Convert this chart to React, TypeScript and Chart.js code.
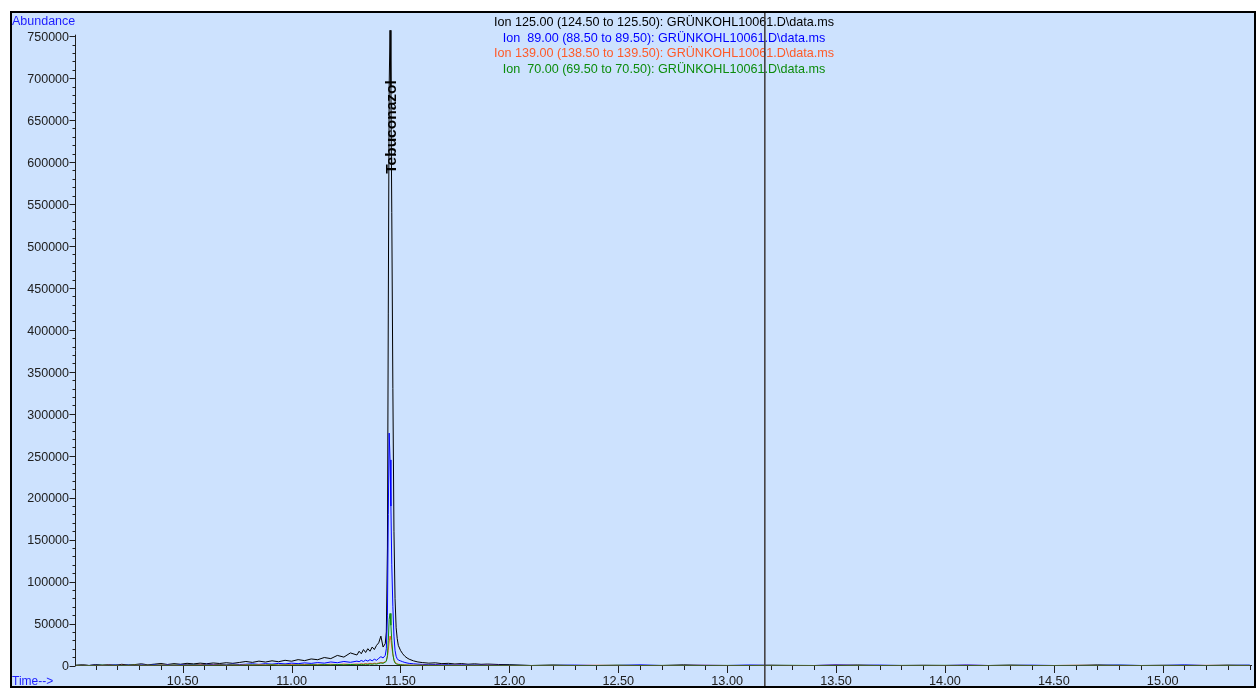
import React, { useEffect, useRef } from 'react';
import { Chart, registerables } from 'chart.js';

Chart.register(...registerables);

// Retention time (min) – shared by all ion traces
const times = [
  10.01, 10.04, 10.07, 10.10, 10.13, 10.16, 10.19, 10.22, 10.25, 10.28,
  10.31, 10.34, 10.37, 10.40, 10.43, 10.46, 10.49, 10.52, 10.55, 10.58,
  10.61, 10.64, 10.67, 10.70, 10.73, 10.76, 10.79, 10.82, 10.85, 10.88,
  10.91, 10.94, 10.97, 11.00, 11.03, 11.06, 11.09, 11.12, 11.15, 11.18,
  11.21, 11.24, 11.27, 11.30,
  11.31, 11.32, 11.33, 11.34, 11.35, 11.36, 11.37, 11.38, 11.39, 11.40, 11.41, 11.42, 11.43,
  11.435, 11.44, 11.444, 11.448, 11.452, 11.456, 11.46, 11.465, 11.47, 11.475, 11.48, 11.485, 11.49,
  11.50, 11.51, 11.52, 11.53, 11.54, 11.56, 11.58, 11.60, 11.63, 11.66,
  11.69, 11.72, 11.75, 11.78, 11.81, 11.84, 11.87, 11.90, 11.95, 12.00,
  12.1, 12.2, 12.3, 12.4, 12.5, 12.6, 12.7, 12.8, 12.9, 13.0,
  13.1, 13.2, 13.3, 13.4, 13.5, 13.6, 13.7, 13.8, 13.9, 14.0,
  14.1, 14.2, 14.3, 14.4, 14.5, 14.6, 14.7, 14.8, 14.9, 15.0,
  15.1, 15.2, 15.3, 15.4,
];

const ion125 = [
  300, 900, 0, 1200, 400, 1000, 200, 1400, 600, 1100,
  2000, 800, 1600, 2400, 1200, 2200, 1500, 2600, 1900, 2800,
  2100, 3000, 2400, 3300, 2600, 3600, 4800, 3700, 5200, 4100,
  5600, 4500, 6200, 5100, 7000, 5800, 7800, 6900, 9500, 8200,
  12000, 10000, 15000, 12500,
  17000, 14000, 19000, 15500, 20000, 17000, 22000, 19000, 24000, 27000, 35000, 22000, 26000,
  40000, 140000, 420000, 690000, 757000, 690000, 540000, 330000, 160000, 80000, 45000, 32000, 24000,
  18000, 14000, 11000, 9000, 7500, 5500, 4200, 3500, 2800, 3200,
  2200, 2600, 1800, 2300, 1500, 2000, 1400, 1700, 1200, 1000,
  0, 600, 0, 0, 300, 0, 0, 800, 0, 0,
  0, 400, 0, 0, 0, 600, 0, 0, 300, 0,
  0, 0, 500, 0, 0, 0, 700, 0, 0, 300,
  0, 0, 500, 0,
];

const ion89 = [
  0, 400, 0, 600, 0, 300, 800, 0, 500, 0,
  700, 200, 900, 300, 800, 200, 1100, 900, 1200, 700,
  1500, 1000, 1300, 800, 1700, 1100, 1500, 2000, 1300, 2200,
  1600, 2500, 1900, 2800, 2200, 3100, 2500, 3500, 2800, 4200,
  3300, 4800, 3800, 5200,
  4500, 6000, 4800, 6500, 5200, 7000, 5600, 7500, 6200, 8500, 10500, 9000, 12000,
  20000, 60000, 180000, 277000, 245000, 190000, 120000, 70000, 35000, 18000, 11000, 8000, 6500,
  5500, 4500, 3600, 3000, 2500, 2000, 1600, 1300, 1000, 1200,
  800, 1000, 600, 900, 500, 700, 400, 600, 300, 200,
  0, 0, 500, 0, 0, 800, 0, 0, 300, 0,
  600, 0, 0, 0, 900, 0, 500, 0, 0, 0,
  700, 0, 0, 400, 0, 0, 0, 600, 0, 0,
  800, 0, 0, 500,
];

const ion139 = [
  0, 300, 0, 200, 0, 400, 0, 300, 0, 500,
  100, 300, 0, 600, 200, 400, 100, 500, 300, 800,
  300, 500, 700, 300, 600, 400, 800, 500, 900, 600,
  1000, 500, 800, 1100, 700, 1200, 900, 1300, 1000, 1500,
  1100, 1700, 1300, 1800,
  1500, 2000, 1700, 2300, 1900, 2600, 2100, 2800, 2400, 3000, 3500, 3200, 4500,
  6000, 10000, 18000, 28000, 35000, 31000, 22000, 13000, 7000, 4000, 2800, 2000, 1600,
  1200, 900, 700, 600, 500, 400, 300, 400, 200, 300,
  200, 100, 300, 200, 100, 200, 100, 300, 100, 0,
  0, 0, 0, 300, 0, 0, 0, 0, 200, 0,
  0, 0, 0, 0, 300, 0, 0, 0, 0, 0,
  200, 0, 0, 0, 0, 300, 0, 0, 0, 0,
  0, 200, 0, 0,
];

const ion70 = [
  100, 300, 0, 200, 400, 100, 300, 0, 200, 500,
  100, 300, 200, 400, 100, 500, 200, 300, 600, 200,
  400, 100, 500, 300, 600, 200, 400, 700, 300, 500,
  800, 400, 600, 300, 700, 500, 900, 600, 1000, 700,
  1100, 800, 1200, 900,
  1100, 1400, 1200, 1600, 1300, 1800, 1500, 2000, 1700, 2400, 3000, 2600, 4000,
  5000, 12000, 30000, 55000, 62000, 48000, 30000, 14000, 6000, 3000, 2000, 1500, 1200,
  900, 700, 500, 400, 300, 200, 300, 100, 200, 100,
  0, 200, 100, 0, 100, 200, 0, 100, 0, 100,
  0, 100, 0, 0, 200, 0, 100, 0, 0, 100,
  0, 0, 200, 0, 100, 0, 0, 100, 0, 200,
  0, 0, 100, 0, 0, 100, 0, 200, 0, 0,
  100, 0, 0, 100,
];

const seriesLabels = [
  'Ion 125.00 (124.50 to 125.50): GRÜNKOHL10061.D\\data.ms',
  'Ion  89.00 (88.50 to 89.50): GRÜNKOHL10061.D\\data.ms',
  'Ion 139.00 (138.50 to 139.50): GRÜNKOHL10061.D\\data.ms',
  'Ion  70.00 (69.50 to 70.50): GRÜNKOHL10061.D\\data.ms',
];
const seriesColors = ['#000000', '#0000ff', '#ff5a28', '#0c8c0c'];

const xTickValues = [10.5, 11.0, 11.5, 12.0, 12.5, 13.0, 13.5, 14.0, 14.5, 15.0];
const yTickValues = [
  0, 50000, 100000, 150000, 200000, 250000, 300000, 350000,
  400000, 450000, 500000, 550000, 600000, 650000, 700000, 750000,
];

const peakName = 'Tebuconazol';
const peakTime = 11.46;
const peakLabelStart = 586000;
const markerTime = 13.173;

const X_MIN = 10.01;
const X_MAX = 15.41;
const Y_MAX = 778800;

const W = 1257;
const H = 688;
const BG = '#cde2fe';
const FONT = '"Liberation Sans", Arial, sans-serif';
const AXIS_BLUE = '#1c1cff';

const decorPlugin = {
  id: 'decor',
  beforeDraw(chart: any) {
    const ctx = chart.ctx;
    ctx.save();
    ctx.fillStyle = '#ffffff';
    ctx.fillRect(0, 0, W, H);
    ctx.fillStyle = BG;
    ctx.fillRect(10, 11, 1246, 677);
    ctx.restore();
  },
  beforeDatasetsDraw(chart: any) {
    const ctx = chart.ctx;
    const xs = chart.scales.x;
    const ys = chart.scales.y;
    const area = chart.chartArea;
    const y0 = ys.getPixelForValue(0);
    ctx.save();
    ctx.strokeStyle = '#202020';
    ctx.lineWidth = 1;
    // y axis
    const ax = Math.round(area.left) - 0.5;
    ctx.beginPath();
    ctx.moveTo(ax, ys.getPixelForValue(yTickValues[yTickValues.length - 1]) - 1.5);
    ctx.lineTo(ax, y0 + 0.5);
    ctx.stroke();
    // x axis (same row as the zero line of the traces)
    ctx.beginPath();
    ctx.moveTo(area.left - 1, y0);
    ctx.lineTo(area.right, y0);
    ctx.stroke();

    // y ticks (major + 4 minor)
    const yStep = yTickValues[1] - yTickValues[0];
    for (let i = 0; i < yTickValues.length; i++) {
      const v = yTickValues[i];
      const py = Math.round(ys.getPixelForValue(v)) + 0.5;
      ctx.beginPath();
      ctx.moveTo(ax - 6, py);
      ctx.lineTo(ax, py);
      ctx.stroke();
      if (i < yTickValues.length - 1) {
        for (let k = 1; k < 5; k++) {
          const pm = Math.round(ys.getPixelForValue(v + (yStep * k) / 5)) + 0.5;
          ctx.beginPath();
          ctx.moveTo(ax - 3, pm);
          ctx.lineTo(ax, pm);
          ctx.stroke();
        }
      }
    }
    // x ticks (major + 4 minor)
    const xStep = xTickValues[1] - xTickValues[0];
    const base = y0 + 0.5;
    const drawX = (v: number, len: number) => {
      const px = Math.round(xs.getPixelForValue(v)) + 0.5;
      if (px < area.left || px > area.right) return;
      ctx.beginPath();
      ctx.moveTo(px, base);
      ctx.lineTo(px, base + len);
      ctx.stroke();
    };
    for (let i = -1; i < xTickValues.length; i++) {
      const v = i < 0 ? xTickValues[0] - xStep : xTickValues[i];
      if (i >= 0) drawX(v, 7);
      for (let k = 1; k < 5; k++) drawX(v + (xStep * k) / 5, 4);
    }

    // labels
    ctx.fillStyle = '#202020';
    ctx.font = `12.5px ${FONT}`;
    ctx.textAlign = 'right';
    ctx.textBaseline = 'alphabetic';
    for (const v of yTickValues) {
      ctx.fillText(String(v), ax - 6.5, ys.getPixelForValue(v) + 4.8);
    }
    ctx.textAlign = 'center';
    ctx.font = `12.7px ${FONT}`;
    for (const v of xTickValues) {
      ctx.fillText(v.toFixed(2), xs.getPixelForValue(v), 685);
    }
    ctx.fillStyle = AXIS_BLUE;
    ctx.textAlign = 'left';
    ctx.font = `12.5px ${FONT}`;
    ctx.fillText('Abundance', 12, 25);
    ctx.font = `12px ${FONT}`;
    ctx.fillText('Time-->', 12, 685);
    ctx.restore();
  },
  afterDatasetsDraw(chart: any) {
    const ctx = chart.ctx;
    const xs = chart.scales.x;
    const ys = chart.scales.y;
    const area = chart.chartArea;
    ctx.save();
    // legend lines
    ctx.font = `12.6px ${FONT}`;
    ctx.textAlign = 'center';
    ctx.textBaseline = 'alphabetic';
    const cx = (area.left + area.right) / 2;
    seriesLabels.forEach((t, i) => {
      ctx.fillStyle = seriesColors[i];
      ctx.fillText(t, cx, 26 + i * 15.6);
    });
    // peak label
    ctx.save();
    ctx.translate(xs.getPixelForValue(peakTime), ys.getPixelForValue(peakLabelStart));
    ctx.rotate(-Math.PI / 2);
    ctx.font = `bold 15.5px ${FONT}`;
    ctx.fillStyle = '#000000';
    ctx.textAlign = 'left';
    ctx.textBaseline = 'middle';
    ctx.fillText(peakName, 0, 0);
    ctx.restore();
    // vertical marker line
    const mx = xs.getPixelForValue(markerTime);
    ctx.strokeStyle = '#3c3838';
    ctx.lineWidth = 1.5;
    ctx.beginPath();
    ctx.moveTo(mx, 12);
    ctx.lineTo(mx, 687);
    ctx.stroke();
    // frame
    ctx.strokeStyle = '#000000';
    ctx.lineWidth = 2;
    ctx.strokeRect(11, 12, 1244, 675);
    ctx.restore();
  },
};

function makeSeries(values: number[]) {
  return times.map((t, i) => ({ x: t, y: values[i] }));
}

export default function App() {
  const canvasRef = useRef<HTMLCanvasElement | null>(null);

  useEffect(() => {
    if (!canvasRef.current) return;
    const seriesValues = [ion125, ion89, ion139, ion70];
    const chart = new Chart(canvasRef.current, {
      type: 'line',
      data: {
        datasets: seriesValues.map((vals, i) => ({
          label: seriesLabels[i],
          data: makeSeries(vals),
          borderColor: seriesColors[i],
          backgroundColor: seriesColors[i],
          borderWidth: 1,
          pointRadius: 0,
          tension: 0,
          fill: false,
          order: seriesValues.length - i,
        })),
      },
      options: {
        responsive: false,
        maintainAspectRatio: false,
        animation: false,
        devicePixelRatio: 1,
        layout: { padding: { left: 76, right: 5, top: 12, bottom: 22.5 } },
        plugins: { legend: { display: false }, tooltip: { enabled: false } },
        events: [],
        scales: {
          x: { type: 'linear', min: X_MIN, max: X_MAX, display: false },
          y: { type: 'linear', min: 0, max: Y_MAX, display: false },
        },
      },
      plugins: [decorPlugin],
    });
    return () => chart.destroy();
  }, []);

  return (
    <div style={{ position: 'absolute', left: 0, top: 0, width: W, height: H }}>
      <canvas ref={canvasRef} width={W} height={H} style={{ width: W, height: H, display: 'block' }} />
    </div>
  );
}
